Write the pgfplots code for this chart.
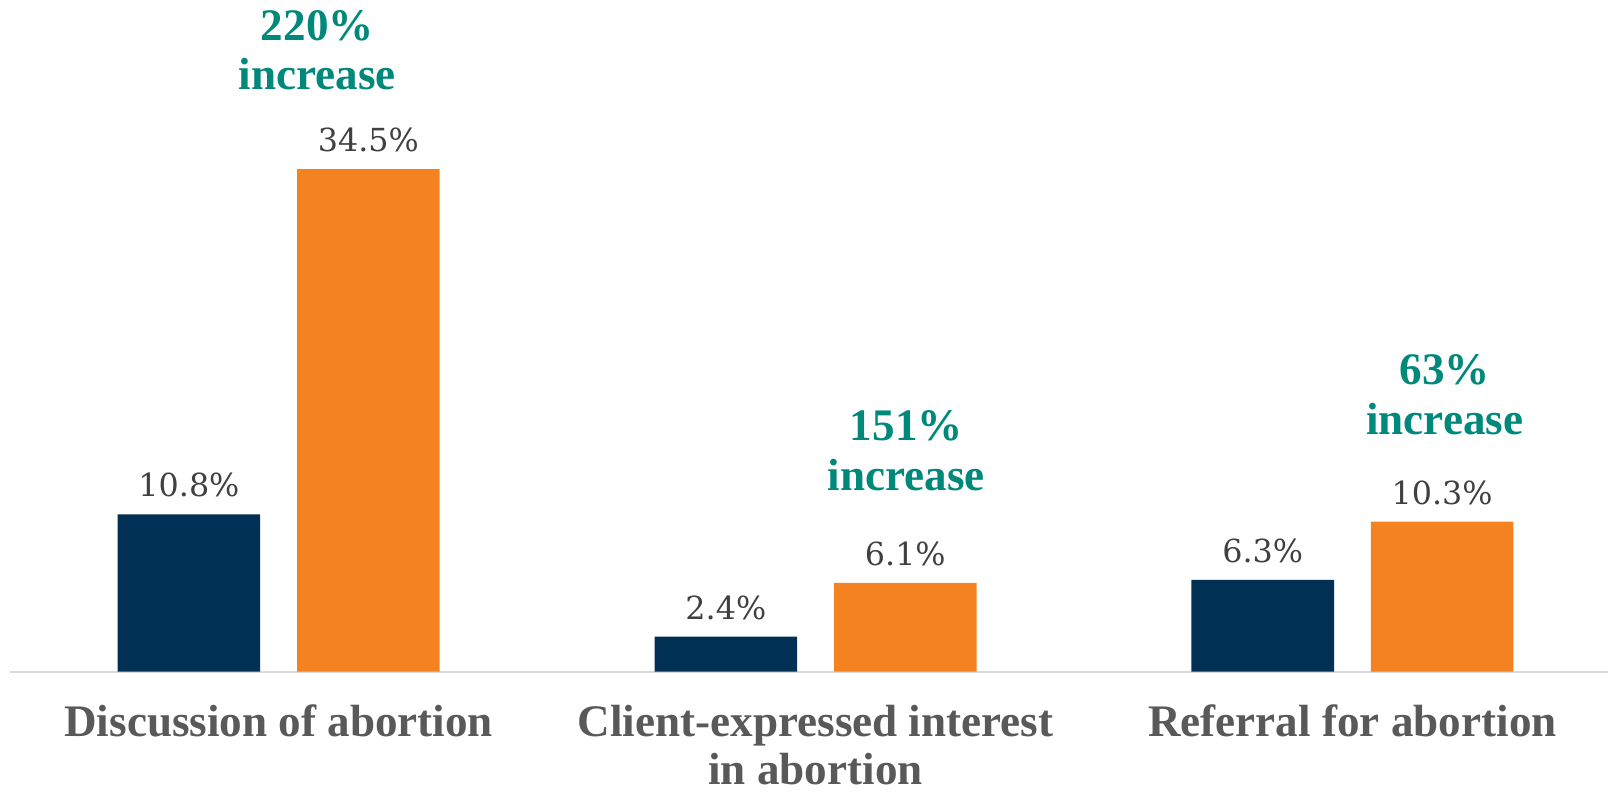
\documentclass[border=0pt]{standalone}
\usepackage{pgfplots}
\pgfplotsset{compat=1.18}
\usepackage{fontspec}
\setmainfont{DejaVu Serif}
\newfontfamily\labelfont{Liberation Serif}

\definecolor{barnavy}{RGB}{0,48,83}
\definecolor{barorange}{RGB}{245,130,32}
\definecolor{annteal}{RGB}{0,137,123}
\definecolor{valgray}{RGB}{64,64,64}
\definecolor{catgray}{RGB}{89,89,89}
\definecolor{axisgray}{RGB}{217,217,217}

\begin{document}
\begin{tikzpicture}
\useasboundingbox (0,0) rectangle (784bp,387.5bp);
\begin{axis}[
    at={(5bp,60bp)}, anchor=south west,
    scale only axis, width=779bp, height=327.5bp,
    xmin=-0.5, xmax=2.476, ymin=0, ymax=46.1,
    axis x line*=bottom, axis y line=none,
    x axis line style={-, draw=axisgray, line width=1bp},
    xtick={0,1,2}, major tick length=0pt,
    xticklabels={Discussion of abortion, {Client-expressed interest\\in abortion}, Referral for abortion},
    xticklabel style={font=\labelfont\bfseries\fontsize{22bp}{23.5bp}\selectfont, text=catgray,
        align=center, anchor=north, inner sep=0pt, yshift=-16bp},
    ybar, bar width=69.5bp,
    nodes near coords, point meta=explicit symbolic,
    every node near coord/.append style={font=\fontsize{15.5bp}{18bp}\selectfont, text=valgray,
        anchor=base, inner sep=0pt, yshift=8.5bp},
    clip=false,
]
\addplot[fill=barnavy, draw=none, bar shift=-43.75bp]
    coordinates {(0,10.8) [10.8\%] (1,2.4) [2.4\%] (2,6.3) [6.3\%]};
\addplot[fill=barorange, draw=none, bar shift=43.75bp]
    coordinates {(0,34.5) [34.5\%] (1,6.1) [6.1\%] (2,10.3) [10.3\%]};

% increase annotations
\tikzset{ann/.style={font=\labelfont\bfseries\fontsize{22bp}{24bp}\selectfont, text=annteal, anchor=base, inner sep=0pt}}
\node[ann] at (axis cs:0.072,43.3) {220\%};
\node[ann] at (axis cs:0.072,39.93) {increase};
\node[ann] at (axis cs:1.169,15.85) {151\%};
\node[ann] at (axis cs:1.169,12.46) {increase};
\node[ann] at (axis cs:2.172,19.72) {63\%};
\node[ann] at (axis cs:2.172,16.27) {increase};
\end{axis}
\end{tikzpicture}
\end{document}
